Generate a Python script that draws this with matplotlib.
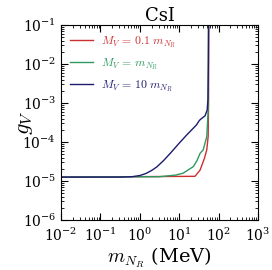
import numpy as np
import matplotlib
matplotlib.use("Agg")
import matplotlib.pyplot as plt

plt.rcParams['font.family'] = 'serif'
plt.rcParams['font.serif'] = ['DejaVu Serif']
plt.rcParams['mathtext.fontset'] = 'cm'

# values (log10 of mass in MeV, log10 of g_V)
blue_logm = [-2, -0.5, -0.2, 0.0, 0.15, 0.3, 0.43, 0.6, 0.8, 1.0, 1.2, 1.44, 1.51, 1.54, 1.655, 1.71, 1.73, 1.74, 1.745]
blue_logg = [-4.90, -4.90, -4.89, -4.86, -4.81, -4.73, -4.64, -4.48, -4.26, -4.03, -3.81, -3.56, -3.45, -3.42, -3.33, -3.18, -2.9, -2.0, -0.9]

green_logm = [-2, 0.5, 0.9, 1.10, 1.36, 1.45, 1.53, 1.61, 1.70, 1.735, 1.745]
green_logg = [-4.90, -4.89, -4.85, -4.80, -4.63, -4.48, -4.29, -4.20, -3.86, -3.2, -0.9]

red_logm = [-2, 1.40, 1.53, 1.64, 1.70, 1.735, 1.745, 1.75]
red_logg = [-4.90, -4.88, -4.72, -4.42, -4.20, -3.86, -3.0, -0.9]

fig = plt.figure(figsize=(2.72, 2.70), dpi=100)
ax = fig.add_axes([61/272, 50/270, 197/272, 195/270])

ax.plot(10**np.array(red_logm), 10**np.array(red_logg), color='#cc2f2f', lw=1.0,
        label=r'$M_V\,=\,0.1\;m_{N_R}$')
ax.plot(10**np.array(green_logm), 10**np.array(green_logg), color='#2e9960', lw=1.0,
        label=r'$M_V\,=\,m_{N_R}$')
ax.plot(10**np.array(blue_logm), 10**np.array(blue_logg), color='#1c1c6e', lw=1.0,
        label=r'$M_V\,=\,10\;m_{N_R}$')

ax.set_xscale('log')
ax.set_yscale('log')
ax.set_xlim(1e-2, 1e3)
ax.set_ylim(1e-6, 1e-1)
ax.tick_params(which='both', direction='in', top=True, right=True, labelsize=10)
ax.tick_params(axis='x', pad=5)
ax.tick_params(which='major', length=5)
ax.tick_params(which='minor', length=2.5)
ax.xaxis.set_minor_locator(matplotlib.ticker.LogLocator(subs=np.arange(2, 10), numticks=20))
ax.yaxis.set_minor_locator(matplotlib.ticker.LogLocator(subs=np.arange(2, 10), numticks=20))
ax.xaxis.set_minor_formatter(matplotlib.ticker.NullFormatter())
ax.yaxis.set_minor_formatter(matplotlib.ticker.NullFormatter())

ax.set_title('CsI', fontsize=13, pad=3)
ax.set_xlabel(r'$m_{N_R}$ (MeV)', fontsize=14, labelpad=1)
ax.set_ylabel(r'$g_V$', fontsize=16)
ax.yaxis.set_label_coords(-0.13, 0.5)

leg = ax.legend(loc='upper left', frameon=False, fontsize=8.5, handlelength=1.9,
                handletextpad=0.7, labelspacing=0.55, borderaxespad=0.3,
                borderpad=0.5)
for txt, line in zip(leg.get_texts(), leg.get_lines()):
    txt.set_color(line.get_color())

fig.savefig('out.png', dpi=100)
